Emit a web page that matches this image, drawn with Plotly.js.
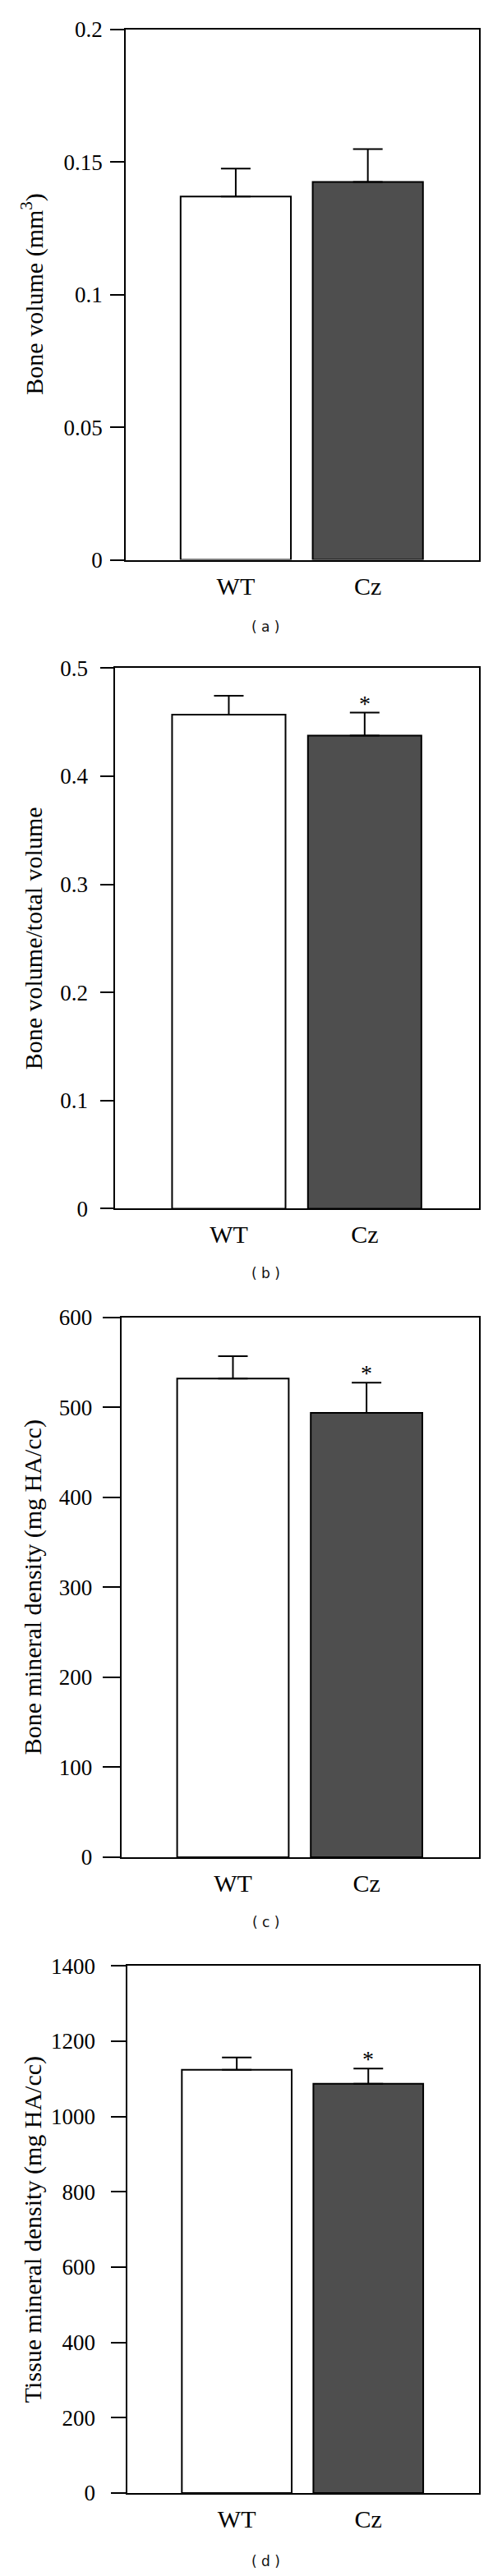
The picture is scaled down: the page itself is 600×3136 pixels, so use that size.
<!DOCTYPE html>
<html>
<head>
<meta charset="utf-8">
<script src="https://cdn.plot.ly/plotly-3.0.1.min.js"></script>
<style>html,body{margin:0;padding:0;background:#fff;}#chart{width:600px;height:3136px;}</style>
</head>
<body>
<div id="chart"></div>
<script>
// ---- data ----
const groups = ['WT', 'Cz'];

const boneVolume = [0.137, 0.1425];
const boneVolumeErr = [0.0105, 0.0124];
const boneVolumeSig = ['', ''];

const bvTv = [0.457, 0.4376];
const bvTvErr = [0.0174, 0.0212];
const bvTvSig = ['', '*'];

const bmd = [532, 494];
const bmdErr = [25, 33.5];
const bmdSig = ['', '*'];

const tmd = [1124, 1087];
const tmdErr = [33, 40.5];
const tmdSig = ['', '*'];

const ticksA = [0, 0.05, 0.1, 0.15, 0.2];
const ticksB = [0, 0.1, 0.2, 0.3, 0.4, 0.5];
const ticksC = [0, 100, 200, 300, 400, 500, 600];
const ticksD = [0, 200, 400, 600, 800, 1000, 1200, 1400];

const yTitles = ['Bone volume (mm<sup>3</sup>)', 'Bone volume/total volume',
                 'Bone mineral density (mg HA/cc)', 'Tissue mineral density (mg HA/cc)'];
const captions = ['( a )', '( b )', '( c )', '( d )'];

// ---- layout helpers ----
const H = 3136, W = 600;
const panels = [
  {vals: boneVolume, err: boneVolumeErr, sig: boneVolumeSig, ticks: ticksA,
   top: 35.8, bottom: 681.5, left: 152.7, ticklen: 16.5, standoff: 4, cap: 762.5},
  {vals: bvTv, err: bvTvErr, sig: bvTvSig, ticks: ticksB,
   top: 813.3, bottom: 1471.4, left: 140.4, ticklen: 16, standoff: 10, cap: 1550},
  {vals: bmd, err: bmdErr, sig: bmdSig, ticks: ticksC,
   top: 1603.8, bottom: 2260.9, left: 147.7, ticklen: 21, standoff: 7, cap: 2340},
  {vals: tmd, err: tmdErr, sig: tmdSig, ticks: ticksD,
   top: 2393.3, bottom: 3035, left: 154.5, ticklen: 18, standoff: 13, cap: 3118}
];
const RIGHT = 582.7;

const serif = 'Liberation Serif, Times New Roman, serif';
const data = [];
const layout = {
  width: W, height: H,
  margin: {l: 0, r: 0, t: 0, b: 0},
  paper_bgcolor: '#fff', plot_bgcolor: '#fff',
  showlegend: false,
  annotations: []
};

panels.forEach((p, i) => {
  const sfx = i === 0 ? '' : String(i + 1);
  const xa = 'x' + sfx, ya = 'y' + sfx;
  data.push({
    type: 'bar',
    x: groups, y: p.vals,
    xaxis: xa, yaxis: ya,
    width: 0.835,
    marker: {color: ['#ffffff', '#4e4e4e'], line: {color: '#000', width: 2}},
    error_y: {type: 'data', symmetric: false, array: p.err, arrayminus: [0, 0],
              color: '#000', thickness: 2, width: 18},
    hoverinfo: 'none'
  });
  const ymax = p.ticks[p.ticks.length - 1];
  layout['xaxis' + sfx] = {
    domain: [p.left / W, RIGHT / W],
    anchor: ya,
    range: [-0.835, 1.84],
    showline: true, mirror: true, linecolor: '#000', linewidth: 2,
    ticks: '', showgrid: false, zeroline: false,
    tickfont: {family: serif, size: 30, color: '#000'},
    ticklabelstandoff: 4,
    fixedrange: true
  };
  layout['yaxis' + sfx] = {
    domain: [1 - p.bottom / H, 1 - p.top / H],
    anchor: xa,
    range: [0, ymax],
    tickvals: p.ticks,
    ticktext: p.ticks.map(String),
    ticks: 'outside', ticklen: p.ticklen, tickwidth: 2, tickcolor: '#000',
    showline: true, mirror: true, linecolor: '#000', linewidth: 2,
    showgrid: false, zeroline: false,
    tickfont: {family: serif, size: 27, color: '#000'},
    ticklabelstandoff: p.standoff,
    fixedrange: true
  };
  // y title
  layout.annotations.push({
    xref: 'paper', yref: 'paper',
    x: 40 / W, y: 1 - (p.top + p.bottom) / 2 / H,
    xanchor: 'center', yanchor: 'middle',
    text: yTitles[i], textangle: -90, showarrow: false,
    font: {family: serif, size: 30, color: '#000'}
  });
  // significance marks
  groups.forEach((g, j) => {
    if (p.sig[j]) {
      layout.annotations.push({
        xref: xa, yref: ya, x: g, y: p.vals[j] + p.err[j],
        xanchor: 'center', yanchor: 'bottom', yshift: -6,
        text: p.sig[j], showarrow: false,
        font: {family: serif, size: 28, color: '#000'}
      });
    }
  });
  // caption
  layout.annotations.push({
    xref: 'paper', yref: 'paper',
    x: 323 / W, y: 1 - p.cap / H,
    xanchor: 'center', yanchor: 'middle',
    text: captions[i], showarrow: false,
    font: {family: 'DejaVu Sans, sans-serif', size: 17, color: '#111'}
  });
});

Plotly.newPlot('chart', data, layout, {staticPlot: true, displayModeBar: false});
</script>
</body>
</html>
